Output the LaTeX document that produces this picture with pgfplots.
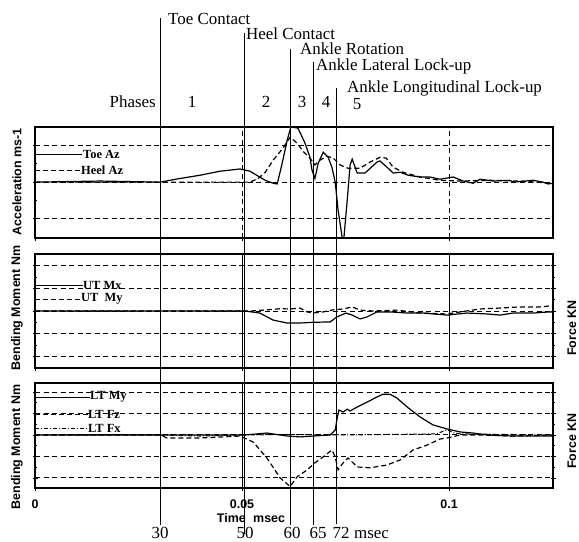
\documentclass[border=0pt]{standalone}
\usepackage{fontspec}
\setmainfont{Liberation Serif}
\setsansfont{Liberation Sans}
\usepackage{pgfplots}
\pgfplotsset{compat=1.18}

\newcommand\lab{\sffamily\bfseries\fontsize{12.5}{14}\selectfont}
\newcommand\ann{\fontsize{17}{20}\selectfont}
\newcommand\leg{\bfseries\fontsize{12.5}{13}\selectfont}

\pgfplotsset{
  panel/.style={
    scale only axis, width=518bp, xmin=0, xmax=125.1,
    anchor=north west,
    axis line style={line width=1.6bp},
    xtick={0,50,100}, xticklabels={}, yticklabels={},
    tick style={black, line width=0.8bp},
    major tick length=5bp, minor tick length=3bp,
    tick align=center, minor y tick num=1,
    xtick pos=bottom,
    ymajorgrids,
    grid style={black, line width=1bp, dash pattern=on 5bp off 3.5bp},
  },
  trace/.style={black, line width=1.2bp, no markers},
  dashtrace/.style={black, line width=1.2bp, no markers, dash pattern=on 5bp off 3bp},
}

\begin{document}
\begin{tikzpicture}
\path[use as bounding box] (0,0) rectangle (579bp,-542bp);

% Acceleration
\begin{axis}[panel, at={(35bp,-127bp)}, height=111bp,
  ymin=-1.53, ymax=1.51, ytick={-1,0,1}, ytick pos=left, xmajorgrids]
\addplot[trace] coordinates {(0,0) (15.7,0.03) (30.2,0) (35.0,0.1) (39.9,0.19) (44.7,0.3) (49.5,0.36) (51.9,0.3) (55.6,0.05) (57.5,-0.03) (58.5,-0.05) (59.7,0.52) (60.9,1.15) (61.8,1.51) (63.5,1.48) (65.2,1.07) (66.4,0.68) (66.9,0.33) (67.6,0.1) (68.4,0.52) (69.6,0.82) (70.8,0.68) (71.7,0.41) (72.5,0) (73.2,-0.77) (74.2,-1.53) (74.6,-1.53) (75.4,-0.5) (76.1,0.47) (76.6,0.63) (77.8,0.25) (79.7,0.25) (82.6,0.55) (83.3,0.58) (85.0,0.41) (86.5,0.25) (88.2,0.27) (90.1,0.19) (93.0,0.14) (95.4,0.14) (97.8,0.08) (101.0,0.14) (103.4,0.03) (105.8,-0.03) (107.5,0.08) (110.6,0.03) (114.7,0.05) (115.5,0) (120.3,0.05) (122.7,0) (123.9,-0.05) (125.1,-0.03)};
\addplot[dashtrace] coordinates {(0,0) (51.9,0) (53.9,0.1) (55.6,0.27) (57.5,0.6) (59.9,0.93) (61.6,1.23) (63.3,1.07) (64.7,0.85) (66.4,0.66) (67.6,0.47) (68.8,0.6) (70.5,0.71) (72.0,0.66) (73.7,0.47) (75.6,0.38) (78.5,0.38) (80.9,0.55) (83.3,0.68) (84.8,0.66) (86.5,0.41) (88.9,0.27) (93.0,0.14) (97.8,0.05) (102.7,0.03) (109.9,0.05) (117.1,0.03) (125.1,-0.03)};
\coordinate (p30) at (axis cs:30.2,0);
\coordinate (p50) at (axis cs:50.6,0);
\coordinate (p60) at (axis cs:61.8,0);
\coordinate (p65) at (axis cs:67.3,0);
\coordinate (p72) at (axis cs:72.7,0);
\end{axis}

% Upper tibia
\begin{axis}[panel, at={(35bp,-254bp)}, height=114bp,
  ymin=-2.51, ymax=2.51, ytick={-2,...,2}, ytick pos=both]
\draw[line width=0.9bp] (axis cs:50,-2.51) -- (axis cs:50,2.51);
\draw[line width=0.9bp] (axis cs:100,-2.51) -- (axis cs:100,2.51);
\addplot[trace] coordinates {(0,0) (50.7,0) (54.3,-0.09) (57.5,-0.4) (60.9,-0.53) (64.0,-0.53) (66.9,-0.5) (71.3,-0.48) (72.9,-0.26) (75.1,-0.09) (76.6,-0.18) (78.5,-0.35) (80.2,-0.26) (82.6,-0.04) (85.7,-0.04) (89.9,-0.09) (93.7,-0.09) (99.5,-0.18) (104.3,-0.09) (109.2,-0.13) (112.3,-0.18) (115.5,-0.09) (120.3,-0.09) (124.2,-0.04) (125.1,-0.04)};
\addplot[dashtrace] coordinates {(0,0) (52,0) (56,0.05) (59.2,0.1) (61.6,0.09) (64.0,0.13) (65.7,-0.04) (67.1,-0.09) (69.6,-0.04) (72.0,0.05) (74.4,0.09) (76.6,0.18) (78.5,0.04) (81.6,0) (87.4,0.04) (93.0,-0.09) (99.5,-0.13) (102.7,-0.04) (107.5,0.09) (112.3,0.13) (117.1,0.18) (122.0,0.18) (124.2,0.22) (125.1,0.22)};
\end{axis}

% Lower tibia
\begin{axis}[panel, at={(35bp,-383bp)}, height=105bp,
  ymin=-2.47, ymax=2.42, ytick={-2,...,2}, ytick pos=both,
  xticklabels={0,0.05,0.1},
  xticklabel style={font=\lab, yshift=-6bp}]
\draw[line width=0.9bp] (axis cs:50,-2.47) -- (axis cs:50,2.42);
\draw[line width=0.9bp] (axis cs:100,-2.47) -- (axis cs:100,2.42);
\addplot[trace] coordinates {(0,0) (50.7,0) (56.0,0.09) (60.9,-0.05) (64.0,-0.09) (67.1,-0.05) (71.3,0) (72.5,0.23) (72.9,0.7) (73.4,1.16) (74.4,1.07) (75.4,1.2) (76.1,1.12) (77.8,1.3) (80.2,1.53) (82.6,1.77) (84.1,1.9) (85.7,1.9) (87.4,1.72) (89.9,1.3) (93.0,0.84) (96.1,0.47) (99.5,0.28) (102.7,0.14) (105.8,0.09) (109.2,0) (115.5,-0.05) (125.1,-0.05)};
\addplot[dashtrace] coordinates {(0,0) (30.2,0) (31.9,-0.14) (39.9,-0.14) (49.5,-0.05) (52.7,-0.33) (56.0,-1.07) (59.2,-2.0) (61.6,-2.4) (63.3,-1.95) (65.7,-1.63) (67.6,-1.3) (69.6,-1.02) (71.7,-0.7) (72.5,-1.02) (73.2,-1.63) (74.4,-1.3) (75.6,-1.07) (77.8,-1.49) (80.9,-1.53) (85.0,-1.4) (88.2,-1.16) (91.3,-0.7) (94.7,-0.47) (97.8,-0.19) (99.5,-0.14) (102.7,0) (107.5,0) (115.5,-0.05) (125.1,0)};
\addplot[black, line width=1bp, no markers, dash pattern=on 4bp off 2bp on 1bp off 2bp] coordinates {(0,0) (30,0) (40,-0.05) (50,0) (60,0.02) (75,0) (97,0.05) (99.5,0.25) (101,0.1) (103,0.05) (125.1,0)};
\end{axis}

\begin{scope}[x=1bp, y=-1bp]
% phase lines
\draw[line width=0.9bp] (p30 |- 0,18) -- (p30 |- 0,525);
\draw[line width=0.9bp] (p50 |- 0,33) -- (p50 |- 0,534);
\draw[line width=0.9bp] (p60 |- 0,49) -- (p60 |- 0,525);
\draw[line width=0.9bp] (p65 |- 0,62) -- (p65 |- 0,525);
\draw[line width=0.9bp] (p72 |- 0,88) -- (p72 |- 0,524);
% event annotations
\node[anchor=base west, inner sep=0] at (168,24) {\ann Toe Contact};
\node[anchor=base west, inner sep=0] at (246,39) {\ann Heel Contact};
\node[anchor=base west, inner sep=0] at (300,54) {\ann Ankle Rotation};
\node[anchor=base west, inner sep=0] at (316,70) {\ann Ankle Lateral Lock-up};
\node[anchor=base west, inner sep=0] at (347,92) {\ann Ankle Longitudinal Lock-up};
\node[anchor=base east, inner sep=0] at (156,107) {\ann Phases};
\node[anchor=base, inner sep=0] at (192,107) {\ann 1};
\node[anchor=base, inner sep=0] at (266,107) {\ann 2};
\node[anchor=base, inner sep=0] at (302,107) {\ann 3};
\node[anchor=base, inner sep=0] at (326,107) {\ann 4};
\node[anchor=base, inner sep=0] at (357,109) {\ann 5};
% bottom time marks
\node[anchor=base, inner sep=0] at (160,538) {\ann 30};
\node[anchor=base, inner sep=0] at (245,538) {\ann 50};
\node[anchor=base, inner sep=0] at (292,538) {\ann 60};
\node[anchor=base, inner sep=0] at (318,538) {\ann 65};
\node[anchor=base, inner sep=0] at (341,538) {\ann 72};
\node[anchor=base west, inner sep=0] at (354,538) {\ann msec};
\node[inner sep=0] at (251,518) {\lab Time\hspace{0.6em}msec};
% axis titles
\node[rotate=90, inner sep=0] at (17,182) {\lab Acceleration ms-1};
\node[rotate=90, inner sep=0] at (17,308) {\lab Bending Moment Nm};
\node[rotate=90, inner sep=0] at (17,447) {\lab Bending Moment Nm};
\node[rotate=90, inner sep=0] at (572,328) {\lab Force KN};
\node[rotate=90, inner sep=0] at (572,441) {\lab Force KN};
% legends
\draw[line width=0.9bp] (35,154) -- (82,154);
\node[anchor=west, inner sep=0] at (83,154) {\leg Toe Az};
\draw[line width=0.9bp, dash pattern=on 5bp off 3bp] (35,170) -- (80,170);
\node[anchor=west, inner sep=0] at (81,170) {\leg Heel Az};
\draw[line width=0.9bp] (35,285) -- (83,285);
\node[anchor=west, inner sep=0] at (83,285) {\leg UT Mx};
\draw[line width=0.9bp, dash pattern=on 5bp off 3bp] (35,299) -- (80,299);
\node[anchor=west, inner sep=0] at (81,299) {\leg UT\hspace{0.5em}My};
\draw[line width=0.9bp] (35,397) -- (90,397);
\node[anchor=west, inner sep=0] at (90,397) {\leg LT My};
\draw[line width=0.9bp, dash pattern=on 5bp off 3bp] (35,414) -- (88,414);
\node[anchor=west, inner sep=0] at (88,414) {\leg LT Fz};
\draw[line width=0.9bp, dash pattern=on 4bp off 2bp on 1bp off 2bp] (35,428) -- (88,428);
\node[anchor=west, inner sep=0] at (88,428) {\leg LT Fx};
\end{scope}
\end{tikzpicture}
\end{document}
